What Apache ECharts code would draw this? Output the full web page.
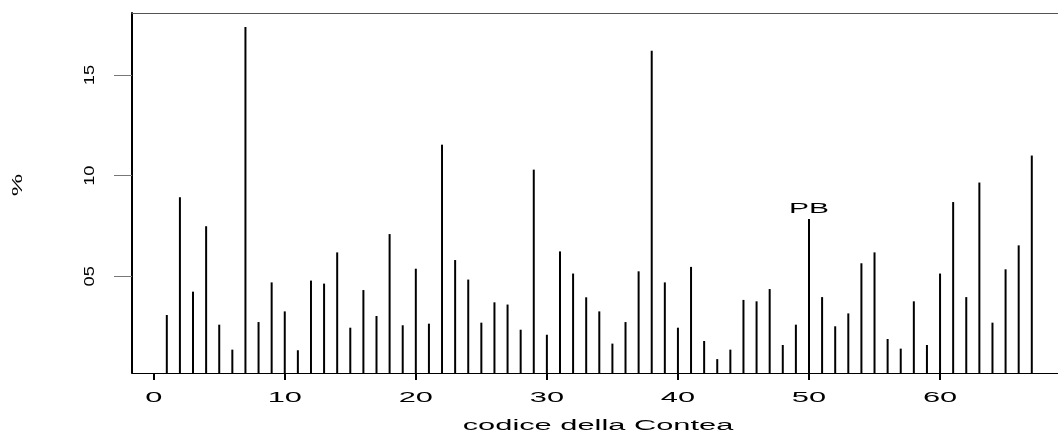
<!DOCTYPE html>
<html>
<head>
<meta charset="utf-8">
<script src="https://cdn.jsdelivr.net/npm/echarts@6/dist/echarts.min.js"></script>
<style>
  html, body { margin: 0; padding: 0; background: #fff; }
  #chart { width: 1058px; height: 437px; }
</style>
</head>
<body>
<div id="chart"></div>
<script>
// County codes along the x axis
const codes = [
  1, 2, 3, 4, 5, 6, 7, 8, 9, 10,
  11, 12, 13, 14, 15, 16, 17, 18, 19, 20,
  21, 22, 23, 24, 25, 26, 27, 28, 29, 30,
  31, 32, 33, 34, 35, 36, 37, 38, 39, 40,
  41, 42, 43, 44, 45, 46, 47, 48, 49, 50,
  51, 52, 53, 54, 55, 56, 57, 58, 59, 60,
  61, 62, 63, 64, 65, 66, 67
];

// Percentage for each county
const shares = [
  3.08, 8.93, 4.24, 7.49, 2.60, 1.36, 17.39, 2.73, 4.70, 3.26,
  1.33, 4.79, 4.64, 6.19, 2.45, 4.32, 3.03, 7.10, 2.57, 5.38,
  2.65, 11.54, 5.81, 4.84, 2.70, 3.71, 3.60, 2.35, 10.30, 2.10,
  6.24, 5.14, 3.96, 3.26, 1.66, 2.73, 5.25, 16.20, 4.70, 2.45,
  5.47, 1.79, 0.89, 1.36, 3.83, 3.76, 4.37, 1.59, 2.60, 7.85,
  3.97, 2.52, 3.16, 5.65, 6.19, 1.89, 1.41, 3.76, 1.59, 5.14,
  8.69, 3.97, 9.66, 2.70, 5.35, 6.54, 11.00
];

const xTicks = [0, 10, 20, 30, 40, 50, 60];
const yTicks = [5, 10, 15];
const yTickLabels = ['05', '10', '15'];
const xTitle = 'codice della Contea';
const yTitle = '%';
const markedCode = 50;
const markedText = 'PB';

const FONT = "'Liberation Sans', Arial, Helvetica, sans-serif";
// The plot region runs on past the right edge of the canvas
const X_MIN = -1.656, X_MAX = 69.0, X_CENTER = 33.9;
const Y_MIN = 0.2, Y_MAX = 18.08;

const chart = echarts.init(document.getElementById('chart'), null, { renderer: 'canvas' });

chart.setOption({
  animation: false,
  backgroundColor: '#ffffff',
  grid: { left: 132, top: 13, right: 0, bottom: 64 },
  xAxis: [
    {
      type: 'value', position: 'bottom', min: X_MIN, max: X_MAX,
      splitLine: { show: false },
      axisLine: { show: true, onZero: false, lineStyle: { color: '#000', width: 1 } },
      axisTick: { show: true, customValues: xTicks, length: 7, lineStyle: { color: '#000', width: 2 } },
      axisLabel: { show: false }
    },
    {
      type: 'value', position: 'top', min: X_MIN, max: X_MAX,
      splitLine: { show: false },
      axisLine: { show: true, onZero: false, lineStyle: { color: '#555', width: 1 } },
      axisTick: { show: false },
      axisLabel: { show: false }
    }
  ],
  yAxis: {
    type: 'value', min: Y_MIN, max: Y_MAX,
    splitLine: { show: false },
    axisLine: { show: true, onZero: false, lineStyle: { color: '#000', width: 2 } },
    axisTick: { show: true, customValues: yTicks, length: 18, lineStyle: { color: '#777', width: 1 } },
    axisLabel: { show: false }
  },
  series: [{
    type: 'bar',
    xAxisIndex: 0,
    data: codes.map((c, i) => [c, shares[i]]),
    barWidth: 2,
    clip: true,
    silent: true,
    itemStyle: { color: '#000' }
  }]
});

// Wide lettering for the texts, placed from the axis scales
const px = v => chart.convertToPixel({ xAxisIndex: 0 }, v);
const py = v => chart.convertToPixel({ yAxisIndex: 0 }, v);
const baseY = py(Y_MIN);

function wideText(text, x, y, size, sx, rot) {
  return {
    type: 'text', x: x, y: y, scaleX: sx, rotation: rot || 0, silent: true,
    style: {
      text: text, font: size + 'px ' + FONT, fill: '#000',
      align: 'center', verticalAlign: 'middle',
      textAlign: 'center', textVerticalAlign: 'middle'
    }
  };
}

const elements = xTicks.map(t => wideText(String(t), px(t), baseY + 25, 14, 2.2));
yTicks.forEach((t, i) => elements.push(wideText(yTickLabels[i], 90, py(t), 14, 1.3, Math.PI / 2)));
elements.push(wideText(xTitle, px(X_CENTER), baseY + 53, 14, 2.2));
elements.push(wideText(yTitle, 18, 185, 14, 1.8, Math.PI / 2));
const mi = codes.indexOf(markedCode);
elements.push(wideText(markedText, px(markedCode), py(shares[mi]) - 10, 15, 2.0));

chart.setOption({ graphic: { elements: elements } });
</script>
</body>
</html>
